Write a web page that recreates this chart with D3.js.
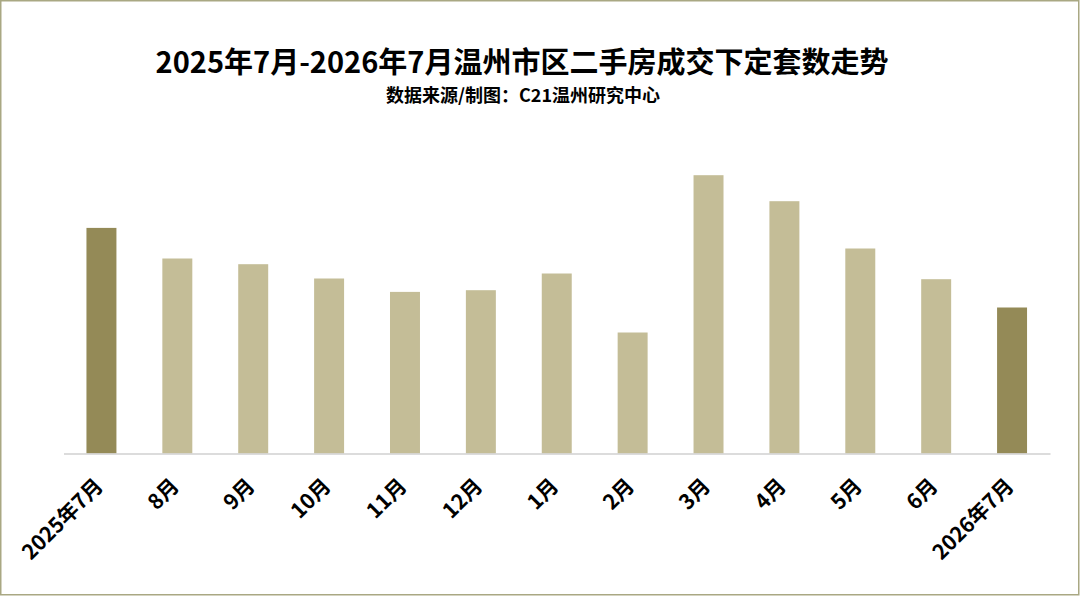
<!DOCTYPE html>
<html>
<head>
<meta charset="utf-8">
<script src="https://cdn.jsdelivr.net/npm/d3@7"></script>
<style>
  html, body { margin: 0; padding: 0; background: #fff; }
  svg { display: block; }
</style>
</head>
<body>
<svg id="chart" width="1080" height="596"></svg>
<script>
// Data (relative values; no axis scale shown)
const categories = ["2025年7月","8月","9月","10月","11月","12月","1月","2月","3月","4月","5月","6月","2026年7月"];
const values = [225.6, 195, 189.3, 175, 161.6, 163.3, 180, 121, 278.3, 252.3, 205, 174.3, 146];
const highlighted = ["2025年7月","2026年7月"];
const titleText = "2025年7月-2026年7月温州市区二手房成交下定套数走势";
const subtitleText = "数据来源/制图：C21温州研究中心";

const W = 1080, H = 596;
const svg = d3.select("#chart");
const font = "'Noto Sans CJK SC', 'Noto Sans', sans-serif";

// Border
svg.append("rect")
  .attr("x", 0.75).attr("y", 0.75)
  .attr("width", W - 2).attr("height", H - 2)
  .attr("fill", "#fff")
  .attr("stroke", "#a9a883")
  .attr("stroke-width", 1.5);

// Title
svg.append("text")
  .attr("x", 522).attr("y", 73)
  .attr("text-anchor", "middle")
  .attr("font-family", font)
  .attr("font-weight", "bold")
  .attr("font-size", 29)
  .attr("fill", "#000")
  .text(titleText);

svg.append("text")
  .attr("x", 523).attr("y", 102)
  .attr("text-anchor", "middle")
  .attr("font-family", font)
  .attr("font-weight", "bold")
  .attr("font-size", 18)
  .attr("fill", "#000")
  .text(subtitleText);

// Scales
const baseY = 453.5;
const x = d3.scaleBand()
  .domain(categories)
  .range([63.5, 1050])
  .paddingInner(0.605)
  .paddingOuter(0.3025);

const y = d3.scaleLinear()
  .domain([0, 400])
  .range([baseY, baseY - 400]);

const data = categories.map((c, i) => ({ cat: c, val: values[i] }));

// Bars
svg.append("g")
  .selectAll("rect")
  .data(data)
  .join("rect")
  .attr("x", d => x(d.cat))
  .attr("y", d => y(d.val))
  .attr("width", x.bandwidth())
  .attr("height", d => y(0) - y(d.val))
  .attr("fill", d => highlighted.includes(d.cat) ? "#948a57" : "#c4bd97");

// X axis
const xAxis = d3.axisBottom(x).tickSize(0).tickPadding(0);
const gx = svg.append("g")
  .attr("transform", `translate(0,${baseY})`)
  .call(xAxis);
gx.select(".domain")
  .attr("stroke", "#d0d0d0")
  .attr("stroke-width", 1.5);
gx.selectAll(".tick text")
  .attr("font-family", font)
  .attr("font-weight", "bold")
  .attr("font-size", 21)
  .attr("fill", "#000")
  .attr("text-anchor", "end")
  .attr("dy", null)
  .attr("y", 0)
  .attr("transform", "translate(3,34) rotate(-45)");
</script>
</body>
</html>
